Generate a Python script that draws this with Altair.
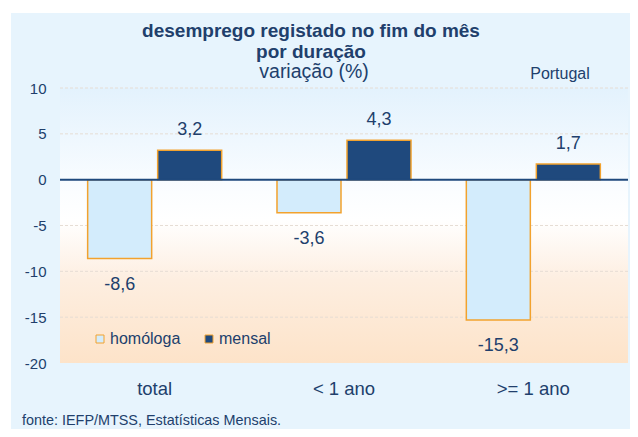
import altair as alt
import pandas as pd

categories = ["total", "< 1 ano", ">= 1 ano"]
series = ["homóloga", "mensal"]
homologa = [-8.6, -3.6, -15.3]
mensal = [3.2, 4.3, 1.7]
y_ticks = [-20, -15, -10, -5, 0, 5, 10]

rows = []
for i, c in enumerate(categories):
    rows.append({"cat": c, "serie": series[0], "valor": homologa[i]})
    rows.append({"cat": c, "serie": series[1], "valor": mensal[i]})
df = pd.DataFrame(rows)
grid_df = pd.DataFrame({"g": [t for t in y_ticks if t not in (0, -20)]})

W, H = 568, 275
PL, PT, PR, PB = 52, 80, 2, 66
DARK = "#213f6c"
ORANGE = "#f2a22e"
FONT = "Liberation Sans"

x_enc = alt.X("cat:N", sort=categories,
              scale=alt.Scale(paddingInner=0, paddingOuter=0),
              axis=alt.Axis(title=None, labelAngle=0, labelFontSize=18.5, labelColor=DARK,
                            labelPadding=16, domain=False, ticks=False, grid=False, labelFont=FONT))
xo_enc = alt.XOffset("serie:N", sort=series,
                     scale=alt.Scale(paddingInner=0.0857, paddingOuter=0.395))
y_scale = alt.Scale(domain=[-20, 10], nice=False, zero=False)
y_enc = alt.Y("valor:Q", scale=y_scale,
              axis=alt.Axis(title=None, values=y_ticks, labelFontSize=15,
                            labelColor=DARK, labelPadding=14, domain=False, ticks=False,
                            grid=False, labelFont=FONT, format="d",
                            labelExpr="replace(datum.label, '\u2212', '-')"))

one = alt.Data(values=[{"a": 1}])

grad = alt.LinearGradient(gradient="linear", x1=0, x2=0, y1=0, y2=1,
                          stops=[alt.GradientStop(color="#e3f2fd", offset=0),
                                 alt.GradientStop(color="#fbfdff", offset=0.38),
                                 alt.GradientStop(color="#ffffff", offset=0.48),
                                 alt.GradientStop(color="#fdeee0", offset=0.7),
                                 alt.GradientStop(color="#fde3c9", offset=1)])
bg = alt.Chart(one).mark_rect(color=grad).encode(
    x=alt.value(0), x2=alt.value(W), y=alt.value(0), y2=alt.value(H))

# white page edge above and left of the panel, as in the reference
edge_top = alt.Chart(one).mark_rect(color="white").encode(
    x=alt.value(-PL), x2=alt.value(W + PR), y=alt.value(-PT), y2=alt.value(-PT + 5))
edge_left = alt.Chart(one).mark_rect(color="white").encode(
    x=alt.value(-PL), x2=alt.value(-PL + 3), y=alt.value(-PT), y2=alt.value(H + PB))

grid = alt.Chart(grid_df).mark_rule(color="#e6ddd4", strokeDash=[3, 2], strokeWidth=1).encode(
    y=alt.Y("g:Q", scale=y_scale), x=alt.value(0), x2=alt.value(W))

base = alt.Chart(df)

bars = base.mark_bar(stroke=ORANGE, strokeWidth=1.5).encode(
    x=x_enc, xOffset=xo_enc, y=y_enc, y2=alt.datum(0),
    fill=alt.Fill("serie:N", sort=series,
                  scale=alt.Scale(domain=series, range=["#d3ecfc", "#1f497d"]),
                  legend=alt.Legend(title=None, orient="none", legendX=32, legendY=243,
                                    direction="horizontal", symbolType="square", symbolSize=64,
                                    symbolStrokeColor=ORANGE, symbolStrokeWidth=1,
                                    labelFontSize=16, labelColor=DARK, labelFont=FONT,
                                    columnPadding=20, labelOffset=2))
)

label_calc = "replace(replace(format(datum.valor, '.1f'), '.', ','), '\u2212', '-')"
pos_labels = base.transform_filter("datum.valor >= 0").transform_calculate(lab=label_calc).mark_text(
    baseline="alphabetic", dy=-15.5, fontSize=18, color=DARK, font=FONT
).encode(x=x_enc, xOffset=xo_enc, y=y_enc, text="lab:N")
neg_labels = base.transform_filter("datum.valor < 0").transform_calculate(lab=label_calc).mark_text(
    baseline="alphabetic", dy=31, fontSize=18, color=DARK, font=FONT
).encode(x=x_enc, xOffset=xo_enc, y=y_enc, text="lab:N")

zero = alt.Chart(one).mark_rule(color="#1f497d", strokeWidth=2).encode(
    y=alt.datum(0), x=alt.value(0), x2=alt.value(W))

t1 = alt.Chart(one).mark_text(text="desemprego registado no fim do mês", fontSize=19, fontWeight="bold",
                              baseline="alphabetic", color=DARK, font=FONT).encode(
    x=alt.value(251), y=alt.value(-51))
t2 = alt.Chart(one).mark_text(text="por duração", fontSize=19, fontWeight="bold",
                              baseline="alphabetic", color=DARK, font=FONT).encode(
    x=alt.value(251), y=alt.value(-30))
t3 = alt.Chart(one).mark_text(text="variação (%)", fontSize=19.5, baseline="alphabetic",
                              color=DARK, font=FONT).encode(x=alt.value(254), y=alt.value(-10))
t4 = alt.Chart(one).mark_text(text="Portugal", fontSize=16, baseline="alphabetic",
                              color=DARK, font=FONT).encode(x=alt.value(500), y=alt.value(-9.5))
t5 = alt.Chart(one).mark_text(text="fonte: IEFP/MTSS, Estatísticas Mensais.", fontSize=14.4, align="left",
                              baseline="alphabetic", color=DARK, font=FONT).encode(
    x=alt.value(-38), y=alt.value(337))

chart = alt.layer(edge_top, edge_left, bg, grid, bars, pos_labels, neg_labels, zero,
                  t1, t2, t3, t4, t5).properties(
    width=W, height=H,
    background="#e7f4fd",
    padding={"left": PL, "top": PT, "right": PR, "bottom": PB},
    autosize=alt.AutoSizeParams(type="none"),
).configure_view(strokeWidth=0)

chart.save("out.html", embed_options={"renderer": "svg", "actions": False})
